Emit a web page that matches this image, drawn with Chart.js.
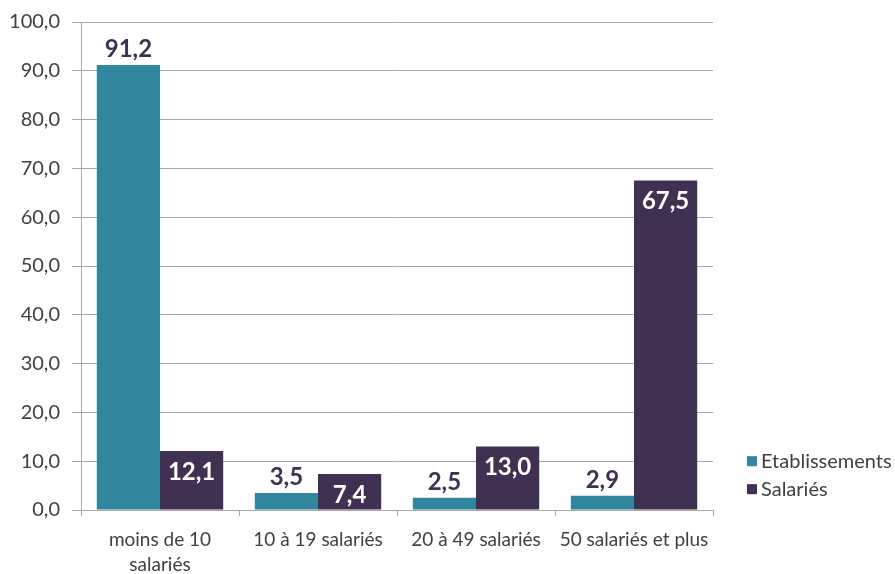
<!DOCTYPE html>
<html>
<head>
  <meta charset="UTF-8">
  <title>Etablissements et salariés par taille</title>
  <script src="https://cdn.jsdelivr.net/npm/chart.js"></script>
  <style>
    html, body { margin: 0; padding: 0; background: #fff; }
    #wrap { width: 895px; height: 574px; position: relative; }
  </style>
</head>
<body>
  <div id="wrap"><canvas id="sizeChart"></canvas></div>

  <script>
    const categories = [['moins de 10', 'salariés'], '10 à 19 salariés', '20 à 49 salariés', '50 salariés et plus'];
    const etablissements = [91.2, 3.5, 2.5, 2.9];
    const salaries = [12.1, 7.4, 13.0, 67.5];
    const seriesNames = ['Etablissements', 'Salariés'];
    const yTicks = { min: 0, max: 100, step: 10 };

    const TEAL = '#31859c';
    const PURPLE = '#403152';
    const GRID = '#a6a6a6';
    const TEXT = '#404040';
    const FONT = 'Lato, "Open Sans", sans-serif';

    const fmt = v => v.toFixed(1).replace('.', ',');

    // value labels: above the teal bars, inside the top of the purple ones
    const valueLabels = {
      id: 'valueLabels',
      afterDatasetsDraw(chart) {
        const ctx = chart.ctx;
        ctx.save();
        ctx.font = 'bold 24px ' + FONT;
        ctx.textAlign = 'center';
        chart.data.datasets.forEach((ds, i) => {
          chart.getDatasetMeta(i).data.forEach((bar, j) => {
            const txt = fmt(ds.data[j]);
            if (i === 0) {
              ctx.fillStyle = PURPLE;
              ctx.textBaseline = 'bottom';
              ctx.fillText(txt, bar.x, bar.y - 4);
            } else {
              ctx.fillStyle = '#ffffff';
              ctx.textBaseline = 'middle';
              ctx.fillText(txt, bar.x, bar.y + 21);
            }
          });
        });
        ctx.restore();
      }
    };

    // legend drawn to the right of the plot, near the bottom
    const sideLegend = {
      id: 'sideLegend',
      afterDraw(chart) {
        const ctx = chart.ctx;
        const area = chart.chartArea;
        const y0 = chart.scales.y.getPixelForValue(10);
        ctx.save();
        ctx.font = '20px ' + FONT;
        ctx.textBaseline = 'middle';
        ctx.textAlign = 'left';
        chart.data.datasets.forEach((ds, i) => {
          const y = y0 + i * 28;
          ctx.fillStyle = ds.backgroundColor;
          ctx.fillRect(area.right + 34, y - 5, 10, 10);
          ctx.fillStyle = TEXT;
          ctx.fillText(ds.label, area.right + 48, y);
        });
        ctx.restore();
      }
    };

    new Chart(document.getElementById('sizeChart'), {
      type: 'bar',
      data: {
        labels: categories,
        datasets: [
          { label: seriesNames[0], data: etablissements, backgroundColor: TEAL },
          { label: seriesNames[1], data: salaries, backgroundColor: PURPLE }
        ]
      },
      options: {
        responsive: true,
        maintainAspectRatio: false,
        animation: false,
        layout: { padding: { top: 20, right: 182, left: 0, bottom: 0 } },
        datasets: { bar: { barPercentage: 1.0, categoryPercentage: 0.8 } },
        plugins: { legend: { display: false }, tooltip: { enabled: false } },
        scales: {
          x: {
            grid: { display: true, drawOnChartArea: false, color: GRID, tickLength: 6, offset: true },
            border: { color: GRID },
            ticks: { color: TEXT, font: { family: FONT, size: 19, lineHeight: 1.3 }, padding: 12, maxRotation: 0, autoSkip: false },
            afterFit(scale) { scale.height = 64; }
          },
          y: {
            min: yTicks.min,
            max: yTicks.max,
            grid: { color: GRID, tickLength: 9 },
            border: { color: GRID },
            ticks: {
              stepSize: yTicks.step,
              color: TEXT,
              font: { family: FONT, size: 20, lineHeight: 1 },
              padding: 12,
              callback: v => fmt(v)
            },
            afterFit(scale) { scale.width = 81; }
          }
        }
      },
      plugins: [valueLabels, sideLegend]
    });
  </script>
</body>
</html>
